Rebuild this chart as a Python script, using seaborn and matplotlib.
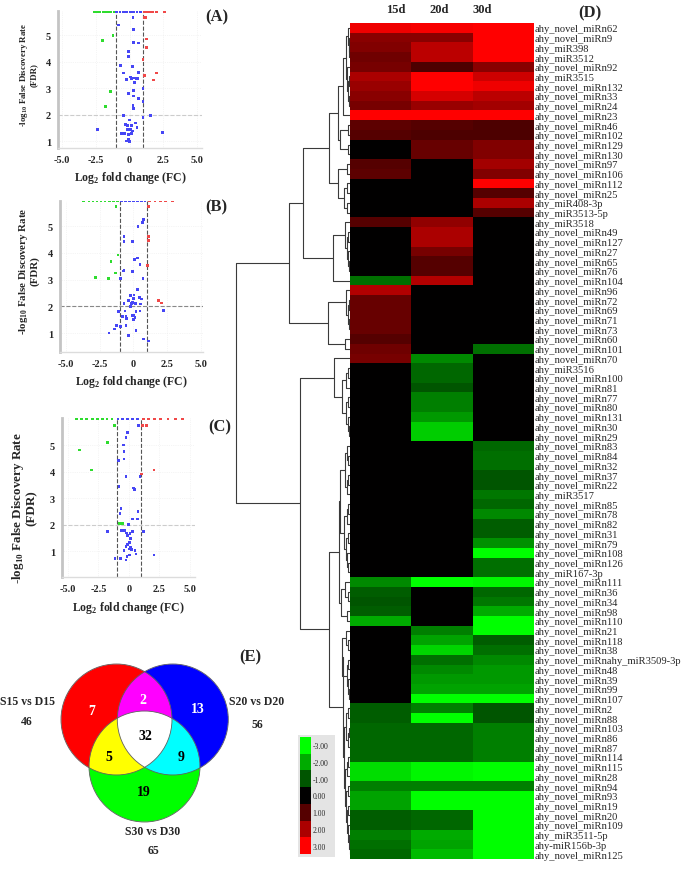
import numpy as np
import pandas as pd
import matplotlib
matplotlib.use('Agg')
import matplotlib.pyplot as plt
import seaborn as sns
from matplotlib.colors import LinearSegmentedColormap
from matplotlib.patches import Circle, Rectangle

# ---------------- heatmap data (D) ----------------
cols = ['15d', '20d', '30d']
mirna = ['ahy_novel_miRn62', 'ahy_novel_miRn9', 'ahy_miR398', 'ahy_miR3512', 'ahy_novel_miRn92',
         'ahy_miR3515', 'ahy_novel_miRn132', 'ahy_novel_miRn33', 'ahy_novel_miRn24', 'ahy_novel_miRn23',
         'ahy_novel_miRn46', 'ahy_novel_miRn102', 'ahy_novel_miRn129', 'ahy_novel_miRn130', 'ahy_novel_miRn97',
         'ahy_novel_miRn106', 'ahy_novel_miRn112', 'ahy_novel_miRn25', 'ahy_miR408-3p', 'ahy_miR3513-5p',
         'ahy_miR3518', 'ahy_novel_miRn49', 'ahy_novel_miRn127', 'ahy_novel_miRn27', 'ahy_novel_miRn65',
         'ahy_novel_miRn76', 'ahy_novel_miRn104', 'ahy_novel_miRn96', 'ahy_novel_miRn72', 'ahy_novel_miRn69',
         'ahy_novel_miRn71', 'ahy_novel_miRn73', 'ahy_novel_miRn60', 'ahy_novel_miRn101', 'ahy_novel_miRn70',
         'ahy_miR3516', 'ahy_novel_miRn100', 'ahy_novel_miRn81', 'ahy_novel_miRn77', 'ahy_novel_miRn80',
         'ahy_novel_miRn131', 'ahy_novel_miRn30', 'ahy_novel_miRn29', 'ahy_novel_miRn83', 'ahy_novel_miRn84',
         'ahy_novel_miRn32', 'ahy_novel_miRn37', 'ahy_novel_miRn22', 'ahy_miR3517', 'ahy_novel_miRn85',
         'ahy_novel_miRn78', 'ahy_novel_miRn82', 'ahy_novel_miRn31', 'ahy_novel_miRn79', 'ahy_novel_miRn108',
         'ahy_novel_miRn126', 'ahy_miR167-3p', 'ahy_novel_miRn111', 'ahy_novel_miRn36', 'ahy_novel_miRn34',
         'ahy_novel_miRn98', 'ahy_novel_miRn110', 'ahy_novel_miRn21', 'ahy_novel_miRn118', 'ahy_novel_miRn38',
         'ahy_novel_miRnahy_miR3509-3p', 'ahy_novel_miRn48', 'ahy_novel_miRn39', 'ahy_novel_miRn99',
         'ahy_novel_miRn107', 'ahy_novel_miRn2', 'ahy_novel_miRn88', 'ahy_novel_miRn103', 'ahy_novel_miRn86',
         'ahy_novel_miRn87', 'ahy_novel_miRn114', 'ahy_novel_miRn115', 'ahy_novel_miRn28', 'ahy_novel_miRn94',
         'ahy_novel_miRn93', 'ahy_novel_miRn19', 'ahy_novel_miRn20', 'ahy_novel_miRn109', 'ahy_miR3511-5p',
         'ahy-miR156b-3p', 'ahy_novel_miRn125']

expr_15d = [2.8, 1.6, 1.5, 1.3, 1.4, 2.0, 1.8, 1.6, 1.4, 3.0,
            1.1, 1.0, 0, 0, 1.0, 1.1, 0, 0, 0, 0,
            1.0, 0, 0, 0, 0, 0, -1.3, 2.1, 1.2, 1.2,
            1.2, 1.2, 1.0, 1.3, 1.4, 0, 0, 0, 0, 0,
            0, 0, 0, 0, 0, 0, 0, 0, 0, 0,
            0, 0, 0, 0, 0, 0, 0, -1.6, -1.1, -1.0,
            -1.1, -2.0, 0, 0, 0, 0, 0, 0, 0, 0,
            -1.1, -1.1, -1.2, -1.2, -1.2, -1.2, -2.6, -2.6, -1.5, -1.9,
            -1.9, -1.1, -1.1, -1.5, -1.3, -1.2]
expr_20d = [2.9, 1.6, 2.2, 2.2, 0.9, 3.0, 3.0, 2.5, 1.8, 3.0,
            1.0, 0.9, 1.2, 1.2, 0, 0, 0, 0, 0, 0,
            1.7, 2.0, 2.0, 1.4, 1.0, 1.0, 2.1, 0, 0, 0,
            0, 0, 0, 0, -1.6, -1.2, -1.2, -1.0, -1.5, -1.5,
            -1.8, -2.4, -2.4, 0, 0, 0, 0, 0, 0, 0,
            0, 0, 0, 0, 0, 0, 0, -3.0, 0, 0,
            0, 0, -1.5, -1.9, -2.5, -1.3, -1.6, -1.8, -1.9, -3.0,
            -1.5, -3.0, -1.2, -1.2, -1.2, -1.2, -2.9, -2.9, -1.5, -3.0,
            -3.0, -1.2, -1.2, -2.0, -1.9, -2.2]
expr_30d = [3.0, 3.0, 3.0, 3.0, 1.6, 2.4, 2.8, 2.2, 1.9, 3.0,
            0.9, 0.9, 1.5, 1.5, 1.9, 1.5, 3.0, 1.0, 2.0, 1.0,
            0, 0, 0, 0, 0, 0, 0, 0, 0, 0,
            0, 0, 0, -1.3, 0, 0, 0, 0, 0, 0,
            0, 0, 0, -1.2, -1.3, -1.3, -1.0, -1.0, -1.4, -1.2,
            -1.6, -1.1, -1.1, -1.7, -3.0, -1.3, -1.3, -2.9, -1.2, -1.4,
            -2.0, -3.0, -3.0, -1.1, -1.3, -1.6, -1.8, -1.8, -1.9, -3.0,
            -1.0, -1.0, -1.5, -1.5, -1.5, -1.5, -3.0, -3.0, -1.5, -3.0,
            -3.0, -3.0, -3.0, -3.0, -3.0, -3.0]

cbar_levels = [-3, -2, -1, 0, 1, 2, 3]

# row dendrogram: [merge distance, left, right], leaves are row numbers
row_tree = [114,
            [61,
             [47,
              [21,
               [12,
                [7, [4, [2, 0, [1.5, 1, [1, 2, 3]]], [3, 4, [2, [1, 5, 6], [1, 7, 8]]]], 9],
                [10, [2, 10, 11], [2, 12, 13]]],
               [12, [3, 14, 15], [6, [3, 16, 17], [3, 18, 19]]]],
              [17, [5, 20, [3, [2, 21, 22], [2, 23, [1, 24, 25]]]], 26]],
             [22, [4, 27, [2, [1, 28, 29], [1, 30, 31]]], [5, 32, 33]]],
            [50,
             [16,
              34,
              [8, [4, [2, 35, 36], 37], [4, [2, 38, 39], [2, 40, [1, 41, 42]]]]],
             [21,
              [11,
               [10, [5, [3, 43, [2, 44, 45]], [3, [2, 46, 47], 48]],
                [6, [3, [2, 49, 50], 51], [4, [2, 52, 53], [3, 54, [2, 55, 56]]]]],
               [9, [5, 57, [2, 58, 59]], [3, 60, 61]]],
              [7,
               [8, [4, 62, [2, 63, 64]], [3, [2, 65, 66], [2, 67, [1, 68, 69]]]],
               [6, [4, [2, 70, 71], [2, [1, 72, 73], 74]],
                [5, [3, [2, 75, 76], 77],
                 [4, [2, 78, 79], [3, [2, 80, 81], [2, 82, [1, 83, [0.5, 84, 85]]]]]]]]]]]

# ---------------- volcano data (log2 FC, -log10 FDR) ----------------
A_down = [(-2.6, 5.9), (-2.35, 5.9), (-2.2, 5.9), (-1.95, 5.9), (-1.8, 5.9), (-1.55, 5.9), (-1.4, 5.9),
          (-1.15, 5.9), (-1.23, 5.0), (-2.02, 4.81), (-1.41, 2.86), (-1.8, 2.31)]
A_ns = [(-0.95, 5.9), (-0.7, 5.9), (-0.45, 5.9), (-0.2, 5.9), (0.05, 5.9), (0.3, 5.9), (0.55, 5.9), (0.8, 5.9),
        (0.25, 5.67), (-0.79, 5.38), (0.3, 5.2), (0.32, 4.72), (0.69, 4.70), (-0.07, 4.37), (-0.05, 4.18),
        (-0.67, 3.84), (0.2, 3.82), (-0.42, 3.57), (0.64, 3.59), (0.07, 3.42), (0.17, 3.36), (0.37, 3.38),
        (0.49, 3.35), (-0.2, 3.33), (0.62, 3.35), (0.37, 3.21), (0.32, 2.9), (-0.07, 2.8), (0.3, 2.7),
        (0.69, 2.61), (0.25, 2.35), (0.27, 2.24), (1.53, 1.98), (-0.44, 1.98), (-0.02, 1.8), (-0.3, 1.64),
        (-0.17, 1.6), (0.17, 1.58), (0.42, 1.68), (-0.17, 1.45), (0.05, 1.45), (0.2, 1.38), (-0.6, 1.3),
        (-0.1, 1.25), (0.15, 1.3), (-0.1, 1.05), (0.0, 0.98), (-0.2, 1.0), (-2.35, 1.43), (2.42, 1.33),
        (-0.4, 1.3), (0.55, 1.5), (1.0, 3.0), (1.0, 2.5), (1.0, 1.9)]
A_up = [(1.1, 5.9), (1.3, 5.9), (1.5, 5.9), (1.7, 5.9), (2.0, 5.9), (2.6, 5.9), (1.09, 5.67), (1.22, 5.67),
        (1.28, 4.85), (1.28, 4.53), (1.0, 4.09), (1.98, 3.57), (1.11, 3.47), (1.78, 3.31)]

B_down = [(-3.7, 5.94), (-3.3, 5.94), (-3.0, 5.94), (-2.7, 5.94), (-2.4, 5.94), (-2.1, 5.94), (-1.8, 5.94),
          (-1.5, 5.94), (-1.2, 5.94), (-1.3, 5.73), (-1.15, 3.92), (-1.67, 3.68), (-1.32, 3.25),
          (-2.83, 3.08), (-1.84, 3.05)]
B_ns = [(-0.9, 5.94), (-0.6, 5.94), (-0.3, 5.94), (0.0, 5.94), (0.3, 5.94), (0.6, 5.94), (0.85, 5.94),
        (0.73, 5.24), (0.68, 5.14), (0.33, 4.98), (-0.7, 4.61), (-0.7, 4.42), (-0.09, 4.43), (0.31, 3.81),
        (0.06, 3.75), (0.48, 3.56), (-0.7, 3.36), (-0.75, 3.32), (-0.06, 3.30), (-0.95, 3.05), (0.7, 3.05),
        (0.31, 2.62), (0.04, 2.42), (-0.01, 2.30), (-0.21, 2.40), (0.43, 2.34), (0.6, 2.27), (-0.38, 2.21),
        (-0.06, 2.15), (0.16, 2.10), (0.51, 2.09), (-0.7, 2.10), (-0.16, 2.10), (2.23, 1.85), (-0.21, 1.99),
        (-0.63, 1.82), (-1.1, 1.8), (0.19, 1.8), (0.48, 1.82), (-0.11, 1.67), (-0.56, 1.61), (-0.01, 1.65),
        (0.11, 1.59), (-0.8, 1.62), (-0.51, 1.55), (0.01, 1.50), (-1.25, 1.27), (-0.95, 1.25), (-0.56, 1.27),
        (-0.36, 0.92), (-1.42, 1.15), (-1.81, 1.0), (0.19, 1.09), (0.73, 0.78), (1.1, 0.7)]
B_up = [(1.2, 5.94), (1.6, 5.94), (2.0, 5.94), (2.4, 5.94), (2.9, 5.94), (1.12, 5.73), (1.1, 4.62),
        (1.1, 4.46), (1.05, 3.52), (1.86, 2.21), (2.06, 2.12)]

C_down = [(-4.3, 6.0), (-3.9, 6.0), (-3.5, 6.0), (-3.0, 6.0), (-2.6, 6.0), (-2.2, 6.0), (-1.8, 6.0),
          (-1.4, 6.0), (-1.2, 5.75), (-1.78, 5.1), (-4.07, 4.81), (-3.09, 4.06), (-0.82, 2.04),
          (-0.68, 2.04), (-0.55, 2.04)]
C_ns = [(-0.9, 6.0), (-0.5, 6.0), (-0.1, 6.0), (0.3, 6.0), (0.7, 6.0), (0.77, 5.75), (-0.11, 5.48),
        (-0.25, 5.29), (-0.46, 5.0), (-0.41, 4.76), (-0.41, 4.47), (-0.87, 4.42), (-0.25, 3.81), (0.9, 3.81),
        (-0.82, 3.43), (0.36, 3.38), (0.44, 3.31), (-0.66, 2.61), (-0.74, 2.41), (0.74, 2.48), (0.27, 2.21),
        (0.68, 2.21), (-0.05, 1.99), (-1.78, 1.74), (1.17, 1.74), (-0.6, 1.77), (-0.38, 1.77), (-0.19, 1.68),
        (0.08, 1.67), (0.27, 1.74), (-0.11, 1.58), (0.14, 1.48), (0.03, 1.33), (-0.11, 1.24), (-0.25, 1.16),
        (0.14, 1.14), (0.0, 1.08), (0.22, 1.05), (-0.41, 1.01), (0.49, 1.01), (0.57, 0.89), (0.03, 0.85),
        (-0.16, 0.78), (-0.68, 0.72), (-0.25, 0.66), (-1.15, 0.72), (2.05, 0.85)]
C_up = [(1.2, 6.0), (1.6, 6.0), (2.1, 6.0), (2.6, 6.0), (3.2, 6.0), (3.8, 6.0), (4.4, 6.0), (1.09, 5.75),
        (1.45, 5.75), (2.05, 4.06), (1.04, 3.91)]

# ---------------- venn data (E) ----------------
venn_sets = ['S15 vs D15', 'S20 vs D20', 'S30 vs D30']
venn_totals = [46, 56, 65]
venn_counts = {'15': 7, '15&20': 2, '20': 13, '15&20&30': 32, '15&30': 5, '20&30': 9, '30': 19}

# ---------------- style ----------------
sns.set_theme(style='white')
plt.rcParams['font.family'] = ['Liberation Serif', 'DejaVu Serif']
plt.rcParams['mathtext.fontset'] = 'custom'
plt.rcParams['mathtext.rm'] = 'Liberation Serif'
plt.rcParams['mathtext.bf'] = 'Liberation Serif:bold'

W, H = 685, 870
fig = plt.figure(figsize=(W / 100, H / 100), dpi=100)


def px_axes(x0, y0, x1, y1):
    # axes from a pixel box (top-left origin)
    return fig.add_axes([x0 / W, 1 - y1 / H, (x1 - x0) / W, (y1 - y0) / H])


gbr = LinearSegmentedColormap.from_list('gbr', ['#00ff00', '#000000', '#ff0000'])

# ---------------- heatmap ----------------
hm_df = pd.DataFrame({'15d': expr_15d, '20d': expr_20d, '30d': expr_30d}, index=mirna)[cols]
ax_hm = px_axes(350, 24, 534, 860)
sns.heatmap(hm_df, ax=ax_hm, cmap=gbr, vmin=-3, vmax=3, cbar=False,
            xticklabels=False, yticklabels=True)
ax_hm.yaxis.tick_right()
ax_hm.tick_params(axis='y', length=0, pad=0.5, labelsize=7.6)
for t in ax_hm.get_yticklabels():
    t.set_rotation(0)
for x, c in zip([0.75, 1.45, 2.15], cols):
    ax_hm.text(x, -1.45, c, ha='center', va='center', fontsize=9, fontweight='bold')
fig.text(590 / W, 1 - 13 / H, '(D)', ha='center', va='center', fontsize=12, fontweight='bold')

# ---------------- dendrogram ----------------
ax_dg = px_axes(222, 24, 350, 860)


def draw_tree(ax, node):
    if not isinstance(node, list):
        return 0.0, node + 0.5
    d, left, right = node
    lx, ly = draw_tree(ax, left)
    rx, ry = draw_tree(ax, right)
    ax.plot([lx, d, d, rx], [ly, ly, ry, ry], color='#3a3a3a', lw=0.8, solid_capstyle='butt')
    return d, (ly + ry) / 2


draw_tree(ax_dg, row_tree)
ax_dg.set_xlim(128, 0)
ax_dg.set_ylim(len(mirna), 0)
ax_dg.axis('off')

# ---------------- colour key ----------------
fig.patches.append(Rectangle((298 / W, 1 - 858 / H), 37 / W, 122 / H, transform=fig.transFigure,
                             facecolor='#e4e4e4', edgecolor='none', zorder=-5))
ax_cb = px_axes(300, 738, 311, 855)
sns.heatmap(np.array(cbar_levels).reshape(-1, 1), ax=ax_cb, cmap=gbr, vmin=-3, vmax=3, cbar=False,
            xticklabels=False, yticklabels=[f'{v:.2f}' for v in cbar_levels])
ax_cb.yaxis.tick_right()
ax_cb.tick_params(axis='y', length=0, pad=1, labelsize=5.5)
for t in ax_cb.get_yticklabels():
    t.set_rotation(0)

# ---------------- volcano plots ----------------
dot_colors = {'down': '#2edc2e', 'ns': '#4646f5', 'up': '#f04848'}


def draw_volcano(box, down, ns, up, xlim, ylim, tag, tag_xy, hcolor, ysize, ylab_xy):
    ax = px_axes(*box)
    pts = pd.DataFrame(down + ns + up, columns=['fc', 'fdr'])
    pts['cls'] = ['down'] * len(down) + ['ns'] * len(ns) + ['up'] * len(up)
    ax.grid(True, color='#ececec', lw=0.5, ls=':')
    ax.axvline(-1, color='#555555', ls='--', lw=0.8, zorder=1)
    ax.axvline(1, color='#555555', ls='--', lw=0.8, zorder=1)
    ax.axhline(2, color=hcolor, ls='--', lw=0.8, zorder=1)
    sns.scatterplot(data=pts, x='fc', y='fdr', hue='cls', palette=dot_colors, marker='s', s=4,
                    linewidth=0, legend=False, ax=ax, zorder=3)
    ax.set_xlim(*xlim)
    ax.set_ylim(*ylim)
    ax.set_xticks([-5, -2.5, 0, 2.5, 5])
    ax.set_xticklabels(['-5.0', '-2.5', '0', '2.5', '5.0'])
    ax.set_yticks([1, 2, 3, 4, 5])
    ax.set_yticklabels(['1', '2', '3', '4', '5'])
    ax.tick_params(length=0, labelsize=7.5, pad=5)
    for lab in ax.get_xticklabels() + ax.get_yticklabels():
        lab.set_fontweight('bold')
    for s in ['top', 'right']:
        ax.spines[s].set_visible(False)
    ax.spines['left'].set_color('#c4c4c4')
    ax.spines['left'].set_linewidth(2)
    ax.spines['bottom'].set_color('#dcdcdc')
    ax.spines['bottom'].set_linewidth(1)
    ax.set_xlabel(r'Log$_{\mathbf{2}}$ fold change (FC)', fontsize=8.5, fontweight='bold', labelpad=4)
    ax.set_ylabel(r'-log$_{\mathbf{10}}$ False Discovery Rate' + '\n(FDR)', fontsize=ysize,
                  fontweight='bold', linespacing=1.05)
    ax.yaxis.set_label_coords(*ylab_xy)
    fig.text(tag_xy[0] / W, 1 - tag_xy[1] / H, tag, ha='center', va='center',
             fontsize=12, fontweight='bold')
    return ax


draw_volcano((58, 12, 202, 149), A_down, A_ns, A_up, (-5.3, 5.37), (0.74, 5.91), '(A)', (217, 17),
             '#cccccc', 6.4, (-0.14, 0.54))
draw_volcano((60, 202, 203, 353), B_down, B_ns, B_up, (-5.44, 5.15), (0.29, 5.94), '(B)', (216, 207),
             '#888888', 7.8, (-0.14, 0.54))
draw_volcano((62, 419, 195, 578), C_down, C_ns, C_up, (-5.49, 5.41), (0.02, 6.02), '(C)', (220, 427),
             '#cccccc', 9.4, (-0.18, 0.44))

# ---------------- venn (E) ----------------
ax_v = px_axes(0, 640, 300, 870)
ax_v.set_xlim(0, 300)
ax_v.set_ylim(870, 640)
ax_v.axis('off')
r = 55.5
centers = [(116.5, 720.5), (172.8, 720.5), (144.5, 767.5)]  # red, blue, green
gx = np.linspace(55, 235, 901)
gy = np.linspace(660, 830, 851)
GX, GY = np.meshgrid(gx, gy)
inside = [((GX - cx) ** 2 + (GY - cy) ** 2) <= r ** 2 for cx, cy in centers]
rgb = np.ones(GX.shape + (3,))
any_in = inside[0] | inside[1] | inside[2]
rgb[..., 0] = np.where(any_in, inside[0], 1.0)
rgb[..., 1] = np.where(any_in, inside[2], 1.0)
rgb[..., 2] = np.where(any_in, inside[1], 1.0)
ax_v.imshow(rgb, extent=(55, 235, 830, 660), origin='upper', aspect='auto', interpolation='antialiased')
for cx, cy in centers:
    ax_v.add_patch(Circle((cx, cy), r, fill=False, ec='#606060', lw=0.6))

venn_pos = {'15': (92, 712, 'white'), '15&20': (143, 701, 'white'), '20': (198, 710, 'white'),
            '15&20&30': (145, 737, 'black'), '15&30': (109, 758, 'black'), '20&30': (181, 758, 'black'),
            '30': (144, 793, 'black')}
for k, n in venn_counts.items():
    x, y, c = venn_pos[k]
    ax_v.text(x, y, str(n), ha='center', va='center', color=c, fontsize=10, fontweight='bold')

set_pos = [(27, 702, 722), (257, 702, 725), (153, 832, 851)]
for name, tot, (x, y1, y2) in zip(venn_sets, venn_totals, set_pos):
    ax_v.text(x, y1, name, ha='center', va='center', fontsize=8.5, fontweight='bold')
    ax_v.text(x, y2, str(tot), ha='center', va='center', fontsize=8.5, fontweight='bold')
fig.text(250 / W, 1 - 657 / H, '(E)', ha='center', va='center', fontsize=12, fontweight='bold')

fig.savefig('out.png', dpi=100)
